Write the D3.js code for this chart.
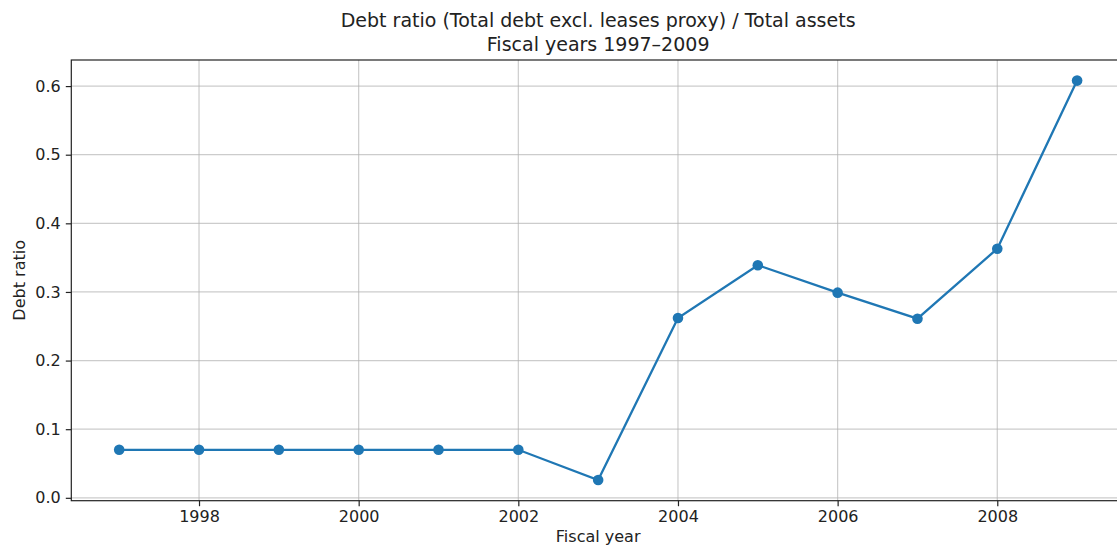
<!DOCTYPE html>
<html>
<head>
<meta charset="utf-8">
<script src="https://cdn.jsdelivr.net/npm/d3@7"></script>
<style>
  body { margin: 0; background: #fff; }
  text { font-family: "DejaVu Sans", sans-serif; fill: #222; }
</style>
</head>
<body>
<svg width="1117" height="547"></svg>
<script>
// data
var years = [1997, 1998, 1999, 2000, 2001, 2002, 2003, 2004, 2005, 2006, 2007, 2008, 2009];
var debtRatio = [0.070, 0.070, 0.070, 0.070, 0.070, 0.070, 0.026, 0.262, 0.339, 0.299, 0.261, 0.363, 0.608];
var xTicks = [1998, 2000, 2002, 2004, 2006, 2008];
var yTicks = [0.0, 0.1, 0.2, 0.3, 0.4, 0.5, 0.6];

var svg = d3.select("svg");

// plot area (right edge runs past the window, as in the original)
var plotLeft = 71.3, plotRight = 1125, plotTop = 60, plotBottom = 500.7;

var x = d3.scaleLinear().domain([1996.4, 2009.6]).range([plotLeft, plotRight]);
var y = d3.scaleLinear().domain([-0.0042, 0.638]).range([plotBottom, plotTop]);

// grid
var grid = svg.append("g");
grid.selectAll(".gx").data(xTicks).enter().append("line")
    .attr("x1", d => x(d)).attr("x2", d => x(d))
    .attr("y1", plotTop).attr("y2", plotBottom)
    .attr("stroke", "#b0b0b0").attr("stroke-opacity", 0.65).attr("stroke-width", 1.2);
grid.selectAll(".gy").data(yTicks).enter().append("line")
    .attr("x1", plotLeft).attr("x2", plotRight)
    .attr("y1", d => y(d)).attr("y2", d => y(d))
    .attr("stroke", "#b0b0b0").attr("stroke-opacity", 0.65).attr("stroke-width", 1.2);

// axes
var xAxis = d3.axisBottom(x).tickValues(xTicks).tickFormat(d3.format("d")).tickSize(5.5).tickPadding(4.5);
var yAxis = d3.axisLeft(y).tickValues(yTicks).tickFormat(d3.format(".1f")).tickSize(5.5).tickPadding(5);

var gx = svg.append("g").attr("transform", "translate(0," + plotBottom + ")").call(xAxis);
var gy = svg.append("g").attr("transform", "translate(" + plotLeft + ",0)").call(yAxis);
[gx, gy].forEach(function (g) {
    g.select(".domain").remove();
    g.selectAll("line").attr("stroke", "#222").attr("stroke-width", 1.2);
    g.selectAll("text").attr("font-size", "16px").attr("font-family", "DejaVu Sans").attr("fill", "#222");
});

// spines
svg.append("rect")
    .attr("x", plotLeft).attr("y", plotTop)
    .attr("width", plotRight - plotLeft).attr("height", plotBottom - plotTop)
    .attr("fill", "none").attr("stroke", "#222").attr("stroke-width", 1.2);

// line + markers
var line = d3.line().x((d, i) => x(years[i])).y(d => y(d));
svg.append("path")
    .datum(debtRatio)
    .attr("d", line)
    .attr("fill", "none")
    .attr("stroke", "#1f77b4")
    .attr("stroke-width", 2.3);

svg.selectAll(".pt").data(debtRatio).enter().append("circle")
    .attr("cx", (d, i) => x(years[i]))
    .attr("cy", d => y(d))
    .attr("r", 5.3)
    .attr("fill", "#1f77b4");

// labels
var cx = (plotLeft + plotRight) / 2;
svg.append("text").attr("x", cx).attr("y", 27).attr("text-anchor", "middle")
    .attr("font-size", "19px").text("Debt ratio (Total debt excl. leases proxy) / Total assets");
svg.append("text").attr("x", cx).attr("y", 51).attr("text-anchor", "middle")
    .attr("font-size", "19px").text("Fiscal years 1997\u20132009");
svg.append("text").attr("x", cx).attr("y", 542).attr("text-anchor", "middle")
    .attr("font-size", "16px").text("Fiscal year");
svg.append("text")
    .attr("transform", "translate(25," + (plotTop + plotBottom) / 2 + ") rotate(-90)")
    .attr("text-anchor", "middle")
    .attr("font-size", "16px").text("Debt ratio");
</script>
</body>
</html>
